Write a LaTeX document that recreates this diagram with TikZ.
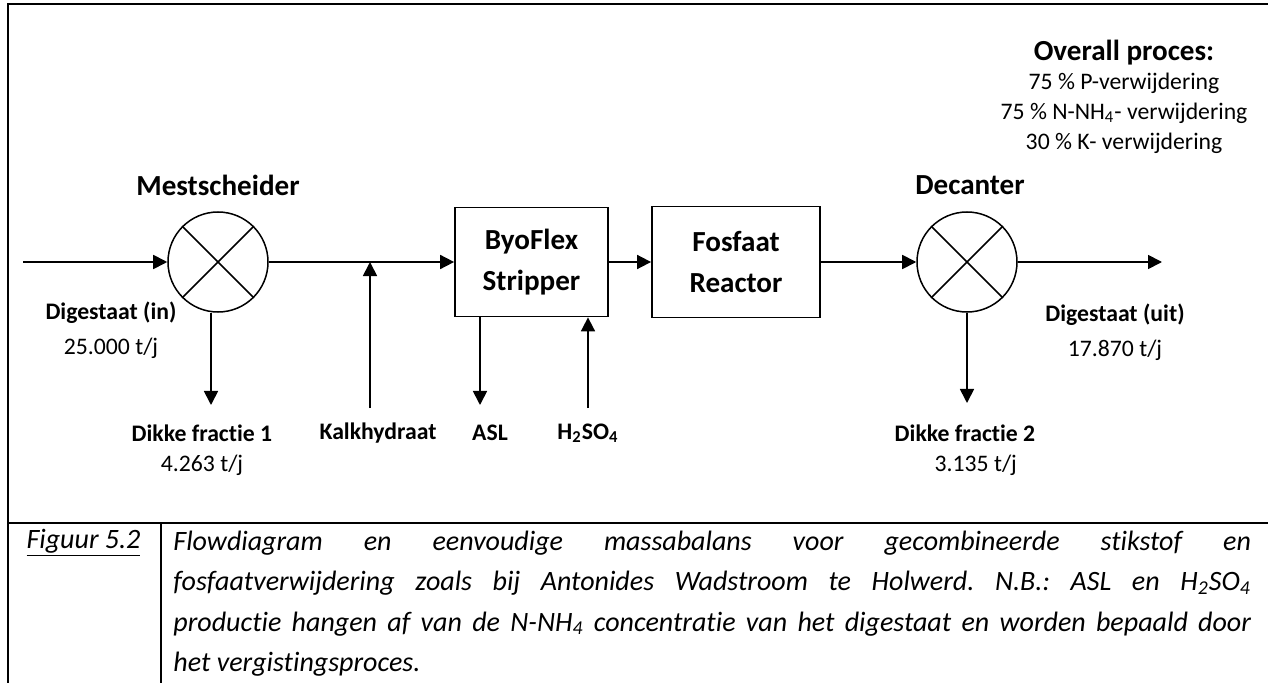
\documentclass[tikz,border=0pt]{standalone}
\usepackage{fontspec}
\setmainfont{Carlito}[Ligatures=NoCommon]
\usetikzlibrary{arrows.meta}
\usetikzlibrary{positioning}
\usetikzlibrary{calc}
\frenchspacing

\begin{document}
\begin{tikzpicture}[
      x=0.464pt, y=-0.464pt,
      separator/.style={circle, draw, line width=0.7pt, minimum size=46.4pt, inner sep=0pt},
      unit/.style={rectangle, draw, line width=0.8pt, inner sep=0pt, align=center,
                   font=\fontsize{13.5}{19}\selectfont\bfseries},
      title/.style={font=\fontsize{13.5}{16}\selectfont\bfseries, inner sep=0pt},
      lbl/.style={font=\fontsize{11}{13}\selectfont\bfseries, inner sep=0pt},
      val/.style={font=\fontsize{11}{13}\selectfont, inner sep=0pt},
      frame/.style={line width=1.3pt},
      flow/.style={->, line width=0.8pt},
      >={Triangle[length=6.5pt, width=6.5pt]}
    ]
      \useasboundingbox (0,0) rectangle (1268,683);

      % process units
      \node [separator] (mest) at (218,262) {};
      \node [unit, minimum width=71pt, minimum height=50.6pt] (byo) at (531.5,262) {ByoFlex\\Stripper};
      \node [unit, minimum width=78pt, minimum height=51.5pt] (fosf) at (736,262) {Fosfaat\\Reactor};
      \node [separator] (deca) at (967,262) {};

      \foreach \s in {mest, deca}
        \draw [line width=0.7pt] (\s.north west) -- (\s.south east)
                                 (\s.north east) -- (\s.south west);

      % loose ends
      \coordinate (in) at (23,262);
      \coordinate (uit) at (1162,262);
      \coordinate (kalk) at (370,262);
      \coordinate (kalkvoet) at (370,408);
      \coordinate (dik1) at (211,405);
      \coordinate (dik2) at (967,403);
      \coordinate (asl) at (480,405);
      \coordinate (zuur) at (588,408);

      \draw [flow] (in) -- (mest);
      \draw [flow] (mest) -- (byo);
      \draw [flow] (byo) -- (fosf);
      \draw [flow] (fosf) -- (deca);
      \draw [flow] (deca) -- (uit);
      \draw [flow] (kalkvoet) -- (kalk);
      \draw [flow] (dik1 |- mest.south) -- (dik1);
      \draw [flow] (deca) -- (dik2);
      \draw [flow] (asl |- byo.south) -- (asl);
      \draw [flow] (zuur) -- (zuur |- byo.south);

      % labels
      \node [title] (mestlbl) at (218,185) {Mestscheider};
      \node [title] (decalbl) at (970,185) {Decanter};
      \node [lbl] (inlbl) at (111,313) {Digestaat (in)};
      \node [val, below=6pt of inlbl] (inval) {25.000 t/j};
      \node [lbl] (dik1lbl) at (202,433) {Dikke fractie 1};
      \node [val, below=6pt of dik1lbl] (dik1val) {4.263 t/j};
      \node [lbl] (kalklbl) at (378,433) {Kalkhydraat};
      \node [lbl] (asllbl) at (490,433) {ASL};
      \node [lbl] (zuurlbl) at (588,433) {H\textsubscript{2}SO\textsubscript{4}};
      \node [lbl] (dik2lbl) at (965,433) {Dikke fractie 2};
      \node [val, below=6pt of dik2lbl, xshift=5pt] (dik2val) {3.135 t/j};
      \node [lbl] (uitlbl) at (1115,315) {Digestaat (uit)};
      \node [val, below=6pt of uitlbl] (uitval) {17.870 t/j};

      \node [title] (overall) at (1124,53) {Overall proces:};
      \node [val, align=center, font=\fontsize{11}{13.9}\selectfont] (overallval) at (1124,113)
            {75 \% P-verwijdering\\
             75 \% N-NH\textsubscript{4}- verwijdering\\
             30 \% K- verwijdering};

      % table frame
      \draw [frame] (8,683) -- (8,4) -- (1268,4);
      \draw [frame] (8,523) -- (1268,523);
      \draw [frame] (161,523) -- (161,683);

      % caption
      \node [font=\fontsize{13}{16}\selectfont\itshape, inner sep=0pt] (fig) at (83.5,543)
            {\underline{Figuur 5.2}};
      \node [anchor=north west, text width=500pt, align=justify, inner sep=0pt,
             font=\fontsize{13}{18.6}\selectfont\itshape] (capt) at (173,531)
            {Flowdiagram en eenvoudige massabalans voor gecombineerde stikstof en\linebreak
             fosfaatverwijdering zoals bij Antonides Wadstroom te Holwerd. N.B.: ASL en H\textsubscript{2}SO\textsubscript{4}\linebreak
             productie hangen af van de N-NH\textsubscript{4} concentratie van het digestaat en worden bepaald door\linebreak
             het vergistingsproces.};
    \end{tikzpicture}
\end{document}
